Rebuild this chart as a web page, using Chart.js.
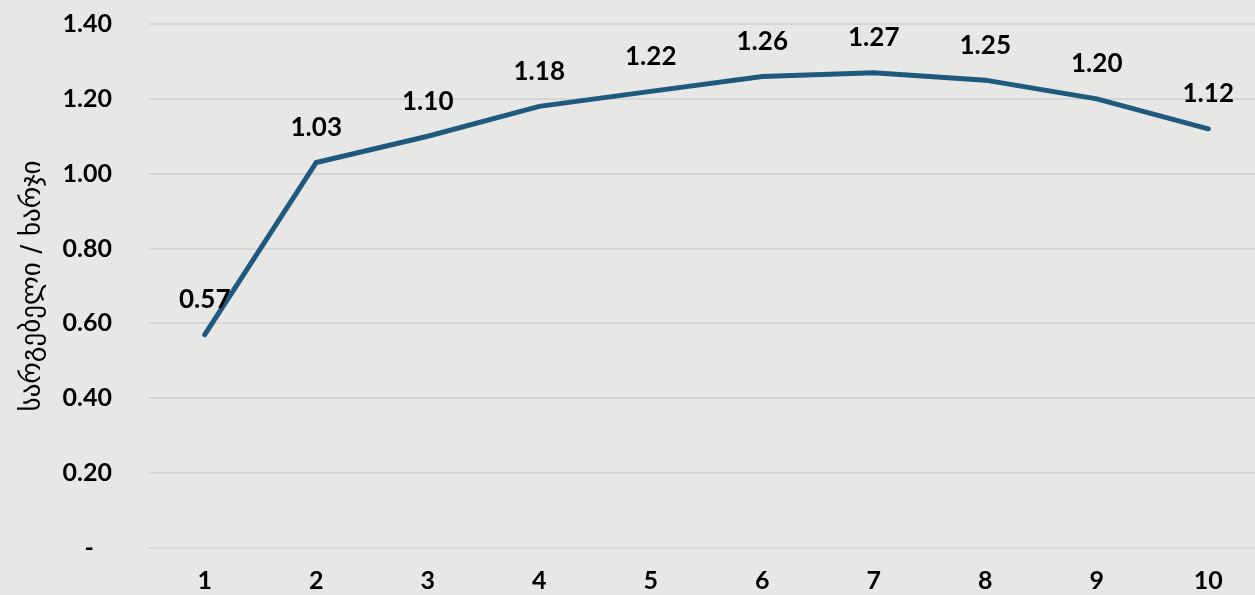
<!DOCTYPE html>
<html lang="ka">
  <head>
    <meta charset="UTF-8" />
    <title>სარგებელი / ხარჯი</title>
    <script src="https://cdn.jsdelivr.net/npm/chart.js"></script>
    <style>
      html, body { margin: 0; padding: 0; background: #e7e7e6; overflow: hidden; }
      /* plot runs a little past the right edge, as in the original crop */
      #wrap { width: 1264px; height: 595px; }
    </style>
  </head>
  <body>
    <div id="wrap"><canvas id="grafica"></canvas></div>
    <script>
      const LABELS = ["1", "2", "3", "4", "5", "6", "7", "8", "9", "10"];
      const VALUES = [0.57, 1.03, 1.10, 1.18, 1.22, 1.26, 1.27, 1.25, 1.20, 1.12];
      const Y_TITLE = "სარგებელი / ხარჯი";
      const Y_MIN = 0;
      const Y_MAX = 1.4;
      const Y_STEP = 0.2;

      const FONT = "Lato";

      // draws the value above each point
      const valueLabels = {
        id: "valueLabels",
        afterDatasetsDraw(chart) {
          const ctx = chart.ctx;
          const meta = chart.getDatasetMeta(0);
          ctx.save();
          ctx.font = "bold 26px " + FONT;
          ctx.fillStyle = "#000";
          ctx.textAlign = "center";
          ctx.textBaseline = "middle";
          meta.data.forEach(function (pt, i) {
            ctx.fillText(VALUES[i].toFixed(2), pt.x, pt.y - 35);
          });
          ctx.restore();
        },
      };

      const ctx = document.getElementById("grafica").getContext("2d");
      new Chart(ctx, {
        type: "line",
        data: {
          labels: LABELS,
          datasets: [
            {
              data: VALUES,
              borderColor: "#1f5a7e",
              borderWidth: 5,
              borderCapStyle: "round",
              pointRadius: 0,
              tension: 0,
              fill: false,
            },
          ],
        },
        options: {
          responsive: true,
          maintainAspectRatio: false,
          animation: false,
          layout: { padding: 0 },
          plugins: { legend: { display: false }, tooltip: { enabled: false } },
          scales: {
            x: {
              offset: true,
              grid: { display: false },
              border: { display: false },
              ticks: {
                color: "#000",
                font: { family: FONT, weight: "bold", size: 25 },
                padding: 10,
                maxRotation: 0,
              },
              afterFit: function (scale) {
                scale.height = 47;
                scale.paddingLeft = 0;
                scale.paddingRight = 0;
              },
            },
            y: {
              min: Y_MIN,
              max: Y_MAX,
              // invisible tick marks keep the gap between labels and plot
              grid: { color: "#d6d6d5", lineWidth: 2, drawTicks: true, tickLength: 29, tickColor: "rgba(0,0,0,0)" },
              border: { display: false },
              title: {
                display: true,
                text: Y_TITLE,
                color: "#000",
                font: { family: "DejaVu Sans", size: 27 },
                padding: { top: 17, bottom: 0 },
              },
              ticks: {
                stepSize: Y_STEP,
                color: "#000",
                padding: 8,
                font: { family: FONT, weight: "bold", size: 25 },
                // accounting style: zero shown as a dash, set in a bit
                callback: function (v) {
                  return Math.abs(v) < 1e-9 ? "-   " : v.toFixed(2);
                },
              },
              afterFit: function (scale) {
                scale.width = 149;
                scale.paddingTop = 24;
                scale.paddingBottom = 0;
              },
            },
          },
        },
        plugins: [valueLabels],
      });
    </script>
  </body>
</html>
